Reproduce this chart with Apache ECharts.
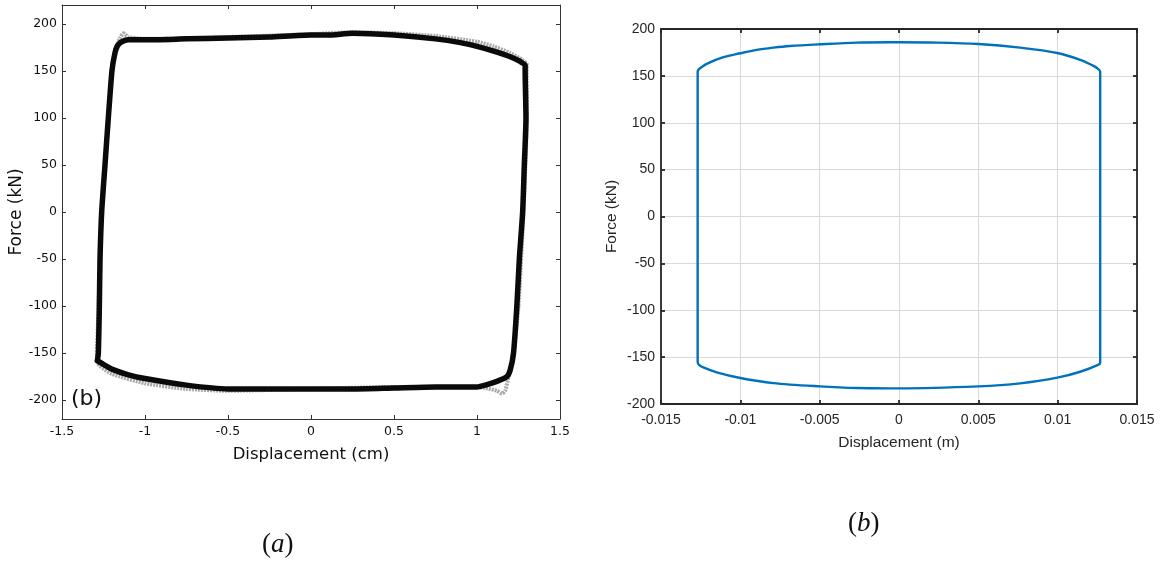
<!DOCTYPE html>
<html>
<head>
<meta charset="utf-8">
<script src="https://cdn.jsdelivr.net/npm/echarts@6/dist/echarts.min.js"></script>
<style>
html,body{margin:0;padding:0;background:#fff;}
#chart{width:1165px;height:563px;}
</style>
</head>
<body>
<div id="chart"></div>
<script>
// ---- Panel (a): experimental loop, displacement (cm) vs force (kN)
const xTicksA = [-1.5, -1, -0.5, 0, 0.5, 1, 1.5];
const yTicksA = [-200, -150, -100, -50, 0, 50, 100, 150, 200];
// main (dark) trace
const loopA = [
  [-1.287,-158],[-1.281,-150],[-1.275,-100],[-1.271,-50],[-1.261,0],[-1.241,50],[-1.221,100],[-1.199,150],
  [-1.181,169],[-1.165,177],[-1.14,181],[-1.10,183],[-1.0,183],[-0.75,184],[-0.5,185],[-0.25,186],
  [0,188],[0.1,188],[0.25,190],[0.5,188],[0.75,184],[0.9,180],[1.0,176],[1.1,171],[1.2,165],[1.26,160],
  [1.29,156],[1.29,150],[1.295,100],[1.285,50],[1.275,0],[1.255,-50],[1.24,-100],[1.22,-150],[1.2,-168],
  [1.18,-175],[1.12,-180],[1.05,-184],[1.0,-186],[0.75,-186],[0.5,-187],[0.25,-188],[0,-188],
  [-0.25,-188],[-0.5,-188],[-0.75,-184],[-1.0,-177],[-1.1,-173],[-1.2,-167],[-1.26,-161],[-1.287,-158]
];
// lighter spread of the other cycles
const loopA2 = [
  [-1.29,-152],[-1.28,-100],[-1.27,-50],[-1.26,0],[-1.24,50],[-1.22,100],[-1.20,150],[-1.18,172],
  [-1.15,185],[-1.13,190],[-1.10,186],[-1.0,184],[-0.5,186],[0,189],[0.25,191],[0.5,190],[0.75,187],
  [1.0,181],[1.1,176],[1.2,169],[1.27,162],[1.30,157],[1.30,100],[1.28,0],[1.25,-100],[1.22,-150],
  [1.19,-175],[1.17,-190],[1.15,-193],[1.12,-190],[1.05,-187],[1.0,-186],[0.5,-186],[0,-188],
  [-0.5,-190],[-0.75,-188],[-1.0,-182],[-1.2,-172],[-1.28,-162],[-1.29,-152]
];

// ---- Panel (b): model loop, displacement (m) vs force (kN)
const xTicksB = [-0.015, -0.01, -0.005, 0, 0.005, 0.01, 0.015];
const yTicksB = [-200, -150, -100, -50, 0, 50, 100, 150, 200];
const loopB = [
  [-0.01269,-155.7],[-0.01269,0],[-0.01269,154.6],[-0.01262,157],[-0.01254,158.2],[-0.01212,162.8],[-0.01107,169.9],[-0.01,174.1],
  [-0.00897,177.7],[-0.00792,180.1],[-0.00687,181.9],[-0.005,183.7],[-0.00266,185.5],[-0.00056,185.8],
  [0,185.8],[0.00238,185.5],[0.005,184],[0.00763,180.1],[0.01005,174.1],[0.01142,167],[0.01226,160.6],
  [0.01258,157],[0.01268,154.6],[0.01268,0],[0.01268,-155.7],[0.01258,-158],[0.01142,-165.6],[0.01005,-171.6],[0.00763,-178],[0.005,-181.2],
  [0,-183.3],[-0.00056,-183.3],[-0.00266,-183],[-0.005,-181.2],[-0.00792,-177.7],[-0.01,-172.3],
  [-0.01149,-166.3],[-0.01233,-161],[-0.01262,-158],[-0.01269,-155.7]
];

const chart = echarts.init(document.getElementById('chart'), null, {renderer:'canvas'});

const fmtB = v => String(parseFloat(Number(v).toFixed(4)));
const axA = '#333333';
const axB = '#262626';

function xAx(gi, pos, min, max, interval, ticks, showLabel, color, lw, label, extra) {
  return Object.assign({
    type:'value', gridIndex:gi, position:pos, min:min, max:max, interval:interval,
    axisLine:{show:true, onZero:false, lineStyle:{color:color, width:lw}},
    axisTick:{show:true, inside:true, length:4, customValues:ticks, lineStyle:{color:color, width:lw}},
    axisLabel:Object.assign({show:showLabel, customValues:ticks}, label || {}),
    splitLine:{show:false}
  }, extra || {});
}

const option = {
  backgroundColor:'#ffffff',
  animation:false,
  grid:[
    {left:62, top:5, width:498, height:414, containLabel:false},
    {left:661, top:29, width:476, height:375, containLabel:false}
  ],
  xAxis:[
    xAx(0,'bottom',-1.5,1.5,0.5,xTicksA,true,axA,1,
      {margin:6, color:'#111', fontFamily:'DejaVu Sans', fontSize:12.5},
      {name:'Displacement (cm)', nameLocation:'middle', nameGap:27,
       nameTextStyle:{color:'#111', fontFamily:'DejaVu Sans', fontSize:16.5}}),
    xAx(0,'top',-1.5,1.5,0.5,xTicksA,false,axA,1),
    xAx(1,'bottom',-0.015,0.015,0.005,xTicksB,true,axB,1.8,
      {margin:9, color:axB, fontFamily:'Liberation Sans', fontSize:14, formatter:fmtB},
      {name:'Displacement (m)', nameLocation:'middle', nameGap:31,
       nameTextStyle:{color:axB, fontFamily:'Liberation Sans', fontSize:15.5},
       splitLine:{show:true, lineStyle:{color:'#d9d9d9', width:1}}}),
    xAx(1,'top',-0.015,0.015,0.005,xTicksB,false,axB,1.8)
  ],
  yAxis:[
    xAx(0,'left',-220,220,null,yTicksA,true,axA,1,
      {margin:5, color:'#111', fontFamily:'DejaVu Sans', fontSize:12.5},
      {name:'Force (kN)', nameLocation:'middle', nameGap:36, nameRotate:90,
       nameTextStyle:{color:'#111', fontFamily:'DejaVu Sans', fontSize:17}}),
    xAx(0,'right',-220,220,null,yTicksA,false,axA,1),
    xAx(1,'left',-200,200,50,yTicksB,true,axB,1.8,
      {margin:6, color:axB, fontFamily:'Liberation Sans', fontSize:14},
      {name:'Force (kN)', nameLocation:'middle', nameGap:41, nameRotate:90,
       nameTextStyle:{color:axB, fontFamily:'Liberation Sans', fontSize:15.5},
       splitLine:{show:true, lineStyle:{color:'#d9d9d9', width:1}}}),
    xAx(1,'right',-200,200,50,yTicksB,false,axB,1.8)
  ],
  series:[
    {type:'line', xAxisIndex:0, yAxisIndex:0, data:loopA2, showSymbol:false, silent:true, smooth:0.2,
     lineStyle:{color:'#a8a8a8', width:4, type:[2,1]}, z:2},
    {type:'line', xAxisIndex:0, yAxisIndex:0, data:loopA, showSymbol:false, silent:true, smooth:0.2,
     lineStyle:{color:'#0a0a0a', width:5.5, join:'round', cap:'round'}, z:3},
    {type:'line', xAxisIndex:2, yAxisIndex:2, data:loopB, showSymbol:false, silent:true, smooth:0.3,
     lineStyle:{color:'#0072BD', width:2.4, join:'round'}, z:3}
  ],
  graphic:[
    {type:'text', left:71, top:388, style:{text:'(b)', font:'22px "DejaVu Sans"', fill:'#111'}},
    {type:'text', left:262, top:531,
     style:{text:'{p|(}{i|a}{p|)}', rich:{
       p:{fontFamily:'Liberation Serif', fontSize:27, fill:'#111'},
       i:{fontFamily:'Liberation Serif', fontStyle:'italic', fontSize:27, fill:'#111'}}}},
    {type:'text', left:848, top:510,
     style:{text:'{p|(}{i|b}{p|)}', rich:{
       p:{fontFamily:'Liberation Serif', fontSize:27, fill:'#111'},
       i:{fontFamily:'Liberation Serif', fontStyle:'italic', fontSize:27, fill:'#111'}}}}
  ]
};
chart.setOption(option);
</script>
</body>
</html>
